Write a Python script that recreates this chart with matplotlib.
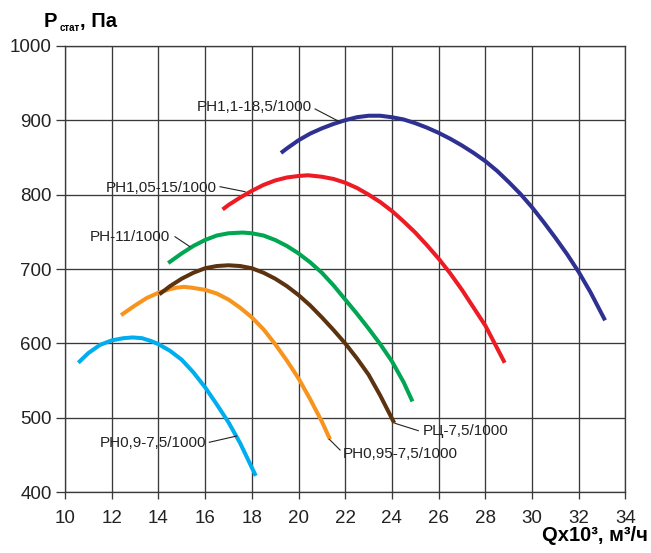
import matplotlib
matplotlib.use('Agg')
import matplotlib.pyplot as plt

plt.rcParams['font.family'] = ['Liberation Sans', 'DejaVu Sans']

# curves: Q (x10^3 m3/h) and P static (Pa)
q_09 = [10.57, 11.0, 11.5, 12.0, 12.5, 12.9, 13.3, 13.7, 14.0, 14.5, 15.0, 15.5, 16.0, 16.5, 17.0, 17.5, 18.17]
p_09 = [574, 587, 598, 604, 607, 608, 607, 603, 599, 590, 578, 561, 541, 518, 494, 466, 422]

q_095 = [12.4, 13.0, 13.5, 14.0, 14.5, 14.8, 15.1, 15.4, 16.0, 16.5, 17.0, 17.5, 18.0, 18.5, 19.0, 19.5, 20.0, 20.5, 21.0, 21.35]
p_095 = [638, 651, 661, 668, 673, 675, 676, 675, 672, 667, 659, 648, 635, 619, 599, 577, 553, 525, 495, 471]

q_rc = [14.04, 14.5, 15.0, 15.5, 16.0, 16.5, 17.0, 17.5, 18.0, 18.5, 19.0, 19.5, 20.0, 20.5, 21.0, 21.5, 22.0, 22.5, 23.0, 23.5, 24.1]
p_rc = [666, 677, 687, 695, 701, 704, 705, 704, 701, 695, 687, 677, 665, 651, 635, 618, 600, 580, 558, 530, 493]

q_11 = [14.42, 15.0, 15.5, 16.0, 16.5, 17.0, 17.6, 18.0, 18.5, 19.0, 19.5, 20.0, 20.5, 21.0, 21.5, 22.0, 22.5, 23.0, 23.5, 24.0, 24.5, 24.88]
p_11 = [708, 721, 731, 739, 745, 748, 749, 748, 745, 739, 731, 721, 709, 695, 678, 659, 640, 620, 599, 576, 548, 522]

q_105 = [16.75, 17.0, 17.5, 18.0, 18.5, 19.0, 19.5, 20.0, 20.4, 21.0, 21.5, 22.0, 22.5, 23.0, 23.5, 24.0, 24.5, 25.0, 25.5, 26.0, 26.5, 27.0, 27.5, 28.0, 28.4, 28.83]
p_105 = [780, 786, 796, 805, 813, 819, 823, 825, 826, 824, 821, 816, 809, 800, 790, 778, 764, 749, 732, 714, 694, 672, 648, 624, 600, 574]

q_11b = [19.25, 19.5, 20.0, 20.5, 21.0, 21.5, 22.0, 22.5, 23.0, 23.5, 24.0, 24.5, 25.0, 25.5, 26.0, 26.5, 27.0, 27.5, 28.0, 28.5, 29.0, 29.5, 30.0, 30.5, 31.0, 31.5, 32.0, 32.5, 33.13]
p_11b = [856, 862, 873, 882, 889, 895, 900, 904, 906, 906, 904, 901, 896, 890, 883, 875, 866, 856, 845, 832, 817, 801, 783, 763, 742, 720, 696, 669, 631]

names = ['РН0,9-7,5/1000', 'РН0,95-7,5/1000', 'РЦ-7,5/1000',
         'РН-11/1000', 'РН1,05-15/1000', 'РН1,1-18,5/1000']

x_ticks = list(range(10, 35, 2))
y_ticks = list(range(400, 1001, 100))

curves = [(q_09, p_09, '#00AEEF'), (q_095, p_095, '#F7941D'), (q_rc, p_rc, '#5C3310'),
          (q_11, p_11, '#00A651'), (q_105, p_105, '#ED1C24'), (q_11b, p_11b, '#2E3192')]

# label text position, alignment, leader line start/end
labels = [
    ((16.07, 465.7), 'right', (16.18, 467.1), (17.35, 475.5)),
    ((21.89, 451.1), 'left', (21.78, 456.7), (21.32, 471.1)),
    ((25.32, 482.7), 'left', (25.13, 482.7), (24.13, 492.6)),
    ((14.5, 743.4), 'right', (14.71, 743.4), (15.35, 730.0)),
    ((16.5, 808.5), 'right', (16.64, 810.6), (17.71, 803.9)),
    ((15.65, 917.7), 'left', (20.71, 915.1), (21.78, 897.6)),
]

fig = plt.figure(figsize=(6.51, 5.53), dpi=100)
ax = fig.add_axes([65 / 651, 1 - 492.2 / 553, 560.4 / 651, 446.4 / 553])

ax.set_xlim(10, 34)
ax.set_ylim(400, 1000)
ax.set_xticks(x_ticks)
ax.set_yticks(y_ticks)
ax.grid(True, color='#3a3a3a', linewidth=0.95)
ax.set_axisbelow(True)
for s in ax.spines.values():
    s.set_color('#3a3a3a')
    s.set_linewidth(0.95)
ax.tick_params(axis='x', direction='out', length=5, width=0.95, color='#3a3a3a',
               labelsize=13.5, pad=8, labelcolor='#222222')
ax.tick_params(axis='y', direction='out', length=6.5, width=0.95, color='#3a3a3a',
               labelsize=13.5, pad=3, labelcolor='#222222')

for q, p, c in curves:
    ax.plot(q, p, color=c, linewidth=2.9, solid_capstyle='butt',
            solid_joinstyle='round', zorder=3)

for name, (pos, ha, l0, l1) in zip(names, labels):
    ax.plot([l0[0], l1[0]], [l0[1], l1[1]], color='#222222', linewidth=0.8, zorder=4)
    ax.text(pos[0], pos[1], name, ha=ha, va='center', fontsize=11, color='#222222', zorder=5)

# axis titles
fig.text(44 / 651, 1 - 27.3 / 553, 'P', fontsize=14.5, fontweight='bold', va='baseline', ha='left')
fig.text(60 / 651, 1 - 30.7 / 553, 'стат', fontsize=7, fontweight='bold', va='baseline', ha='left')
fig.text(80 / 651, 1 - 27.3 / 553, ', Па', fontsize=14.5, fontweight='bold', va='baseline', ha='left')
fig.text(648 / 651, 1 - 540.7 / 553, 'Qx10³, м³/ч', fontsize=14.5, fontweight='bold',
         va='baseline', ha='right')

fig.savefig('out.png', dpi=100)
